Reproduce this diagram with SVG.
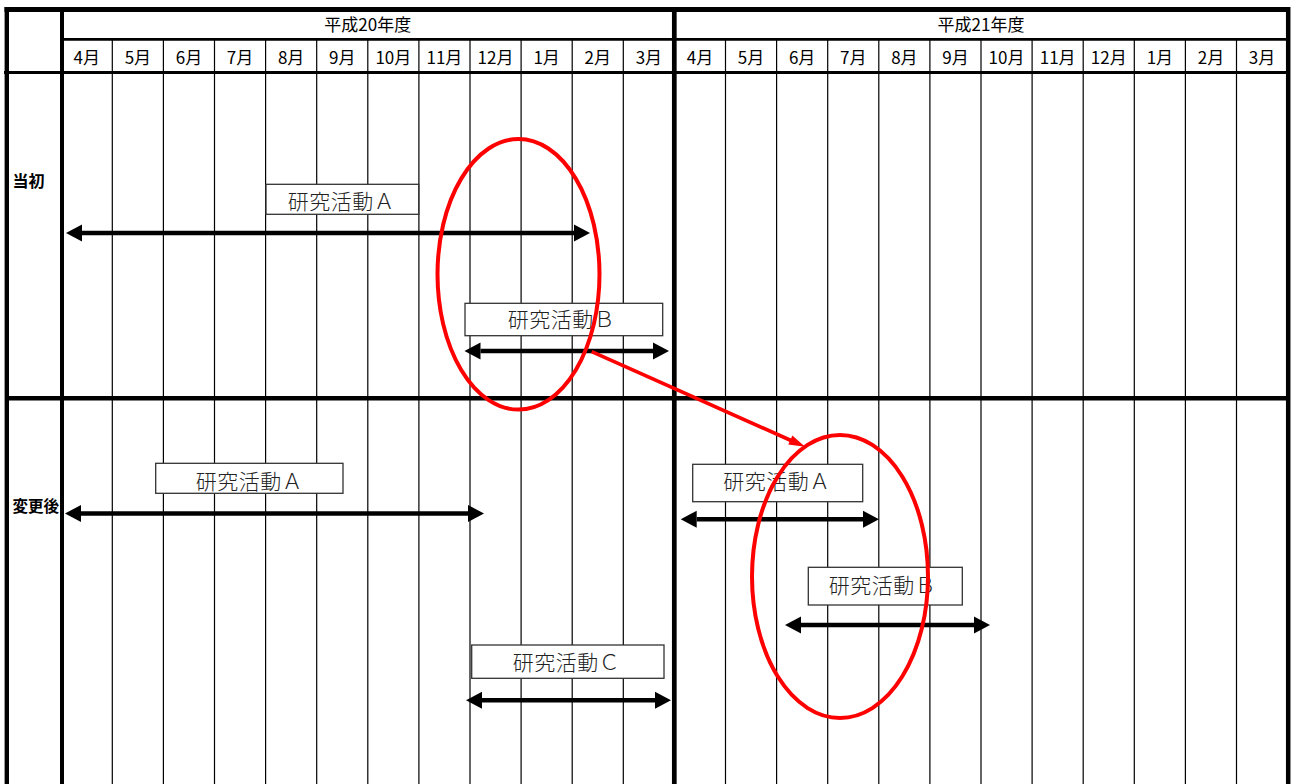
<svg xmlns="http://www.w3.org/2000/svg" width="1298" height="784" viewBox="0 0 1298 784">
<style>
.thin{stroke:#000;stroke-width:1.2;fill:none}
.thick{stroke:#000;fill:none}
.hdr{font-family:"Noto Sans CJK JP","Noto Sans CJK SC",sans-serif;font-size:17px;fill:#000;text-anchor:middle}
.side{font-family:"Noto Sans CJK JP","Noto Sans CJK SC",sans-serif;font-size:16px;font-weight:bold;fill:#000}
.box rect{fill:#fff;stroke:#333;stroke-width:1.3}
.box text{font-family:"Noto Sans CJK JP","Noto Sans CJK SC",sans-serif;font-size:21px;font-weight:300;fill:#222;text-anchor:middle;letter-spacing:0.5px}
.arr{stroke:#000;stroke-width:4.5;fill:none;marker-start:url(#ah);marker-end:url(#ah)}
.red{stroke:#f00;stroke-width:4;fill:none}
</style>
<defs>
<marker id="ah" markerUnits="userSpaceOnUse" viewBox="0 -9 16 18" refX="0" refY="0" markerWidth="16" markerHeight="18" orient="auto-start-reverse" overflow="visible">
<path d="M0,-8.5 L16,0 L0,8.5 z" fill="#000"/>
</marker>
</defs>
<rect x="0" y="0" width="1298" height="784" fill="#fff"/>
<g id="grid">
<g class="thin">
<path d="M112.3,39V784M163.4,39V784M214.5,39V784M265.6,39V784M316.7,39V784M367.8,39V784M418.9,39V784M470,39V784M521.1,39V784M572.2,39V784M623.3,39V784"/>
<path d="M725.5,39V784M776.6,39V784M827.7,39V784M878.8,39V784M929.9,39V784M981,39V784M1032.1,39V784M1083.2,39V784M1134.3,39V784M1185.4,39V784M1236.5,39V784"/>
</g>
<g class="thick">
<line x1="4.5" y1="9.5" x2="1290" y2="9.5" stroke-width="5"/>
<line x1="6.8" y1="7" x2="6.8" y2="784" stroke-width="4.4"/>
<line x1="62" y1="7" x2="62" y2="784" stroke-width="4"/>
<line x1="674.3" y1="7" x2="674.3" y2="784" stroke-width="4.7"/>
<line x1="1288.2" y1="7" x2="1288.2" y2="784" stroke-width="4.5"/>
<line x1="62" y1="39.3" x2="1290" y2="39.3" stroke-width="2.8"/>
<line x1="4" y1="72.5" x2="1290" y2="72.5" stroke-width="3"/>
<line x1="8" y1="398.2" x2="1290" y2="398.2" stroke-width="4.6"/>
</g>
</g>
<g id="headers">
<text class="hdr" x="367.8" y="31">平成20年度</text>
<text class="hdr" x="981" y="31">平成21年度</text>
<text class="hdr" x="86.75" y="63.5">4月</text>
<text class="hdr" x="137.85" y="63.5">5月</text>
<text class="hdr" x="188.95" y="63.5">6月</text>
<text class="hdr" x="240.05" y="63.5">7月</text>
<text class="hdr" x="291.15" y="63.5">8月</text>
<text class="hdr" x="342.25" y="63.5">9月</text>
<text class="hdr" x="393.35" y="63.5">10月</text>
<text class="hdr" x="444.45" y="63.5">11月</text>
<text class="hdr" x="495.55" y="63.5">12月</text>
<text class="hdr" x="546.65" y="63.5">1月</text>
<text class="hdr" x="597.75" y="63.5">2月</text>
<text class="hdr" x="648.85" y="63.5">3月</text>
<text class="hdr" x="699.95" y="63.5">4月</text>
<text class="hdr" x="751.05" y="63.5">5月</text>
<text class="hdr" x="802.15" y="63.5">6月</text>
<text class="hdr" x="853.25" y="63.5">7月</text>
<text class="hdr" x="904.35" y="63.5">8月</text>
<text class="hdr" x="955.45" y="63.5">9月</text>
<text class="hdr" x="1006.55" y="63.5">10月</text>
<text class="hdr" x="1057.65" y="63.5">11月</text>
<text class="hdr" x="1108.75" y="63.5">12月</text>
<text class="hdr" x="1159.85" y="63.5">1月</text>
<text class="hdr" x="1210.95" y="63.5">2月</text>
<text class="hdr" x="1262.05" y="63.5">3月</text>
<text class="side" x="12.5" y="187">当初</text>
<text class="side" x="12.5" y="512" style="font-size:15.5px">変更後</text>
</g>
<g id="connectors">
<line class="arr" x1="82" y1="233" x2="574" y2="233"/>
<line class="arr" x1="480.5" y1="351" x2="653" y2="351"/>
<line class="arr" x1="81" y1="513.5" x2="468" y2="513.5"/>
<line class="arr" x1="696.7" y1="519.3" x2="863" y2="519.3"/>
<line class="arr" x1="801" y1="625" x2="974" y2="625"/>
<line class="arr" x1="482" y1="700.3" x2="655" y2="700.3"/>
</g>
<g id="node-initial-a" class="box">
<rect x="266" y="184.3" width="152.7" height="30"/>
<text x="341.5" y="208.5">研究活動Ａ</text>
</g>
<g id="node-initial-b" class="box">
<rect x="465" y="303.3" width="197.7" height="32.4"/>
<text x="561.5" y="326.5">研究活動Ｂ</text>
</g>
<g id="node-changed-a1" class="box">
<rect x="155.7" y="463.3" width="187.3" height="30"/>
<text x="249.5" y="488.5">研究活動Ａ</text>
</g>
<g id="node-changed-c" class="box">
<rect x="471.7" y="645" width="192.3" height="33.3"/>
<text x="566.5" y="669.5">研究活動Ｃ</text>
</g>
<g id="node-changed-a2" class="box">
<rect x="692.7" y="464.3" width="170" height="37.4"/>
<text x="777" y="489">研究活動Ａ</text>
</g>
<g id="node-changed-b" class="box">
<rect x="808.3" y="567.3" width="154" height="37.7"/>
<text x="882.5" y="592.5">研究活動Ｂ</text>
</g>
<g id="highlights">
<ellipse class="red" cx="518.5" cy="274.3" rx="81" ry="135.3"/>
<ellipse class="red" cx="840" cy="576.5" rx="88" ry="141.5"/>
<line class="red" x1="591.7" y1="351.7" x2="791" y2="440.5" style="stroke-width:3.6"/>
<path d="M805,446.7 L792.4,435.4 L788.3,444.6 z" fill="#f00"/>
</g>
</svg>
